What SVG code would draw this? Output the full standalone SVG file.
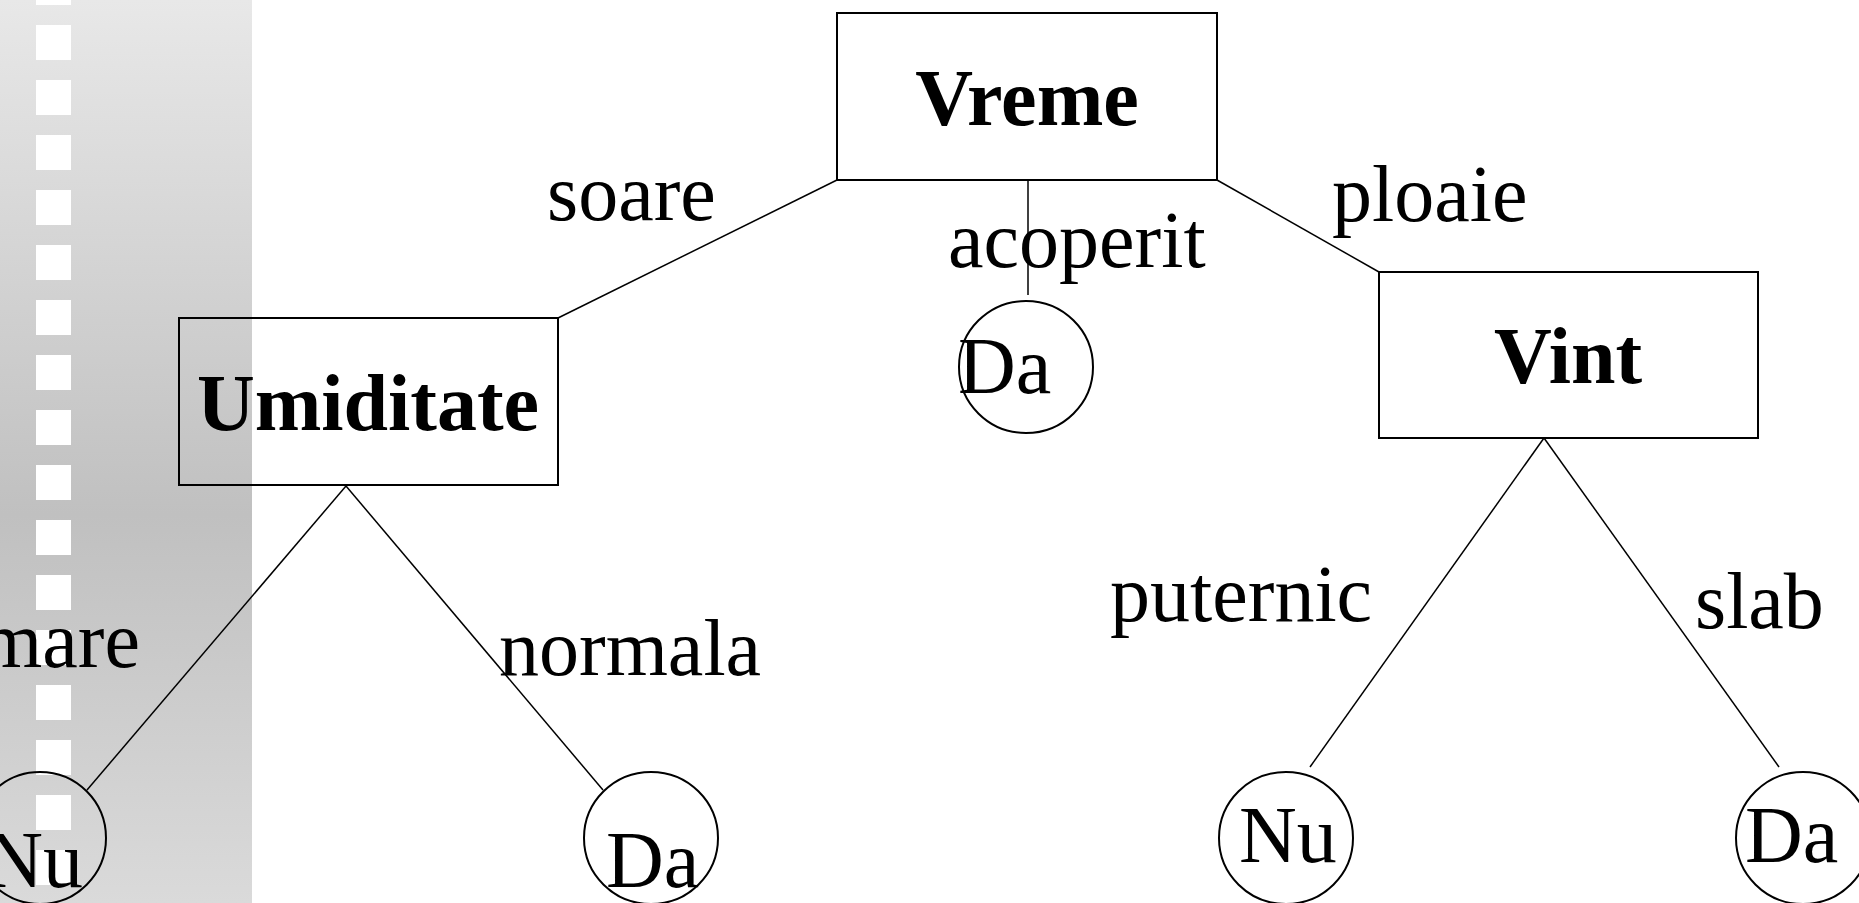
<svg xmlns="http://www.w3.org/2000/svg" width="1859" height="903" viewBox="0 0 1859 903">
<defs>
<linearGradient id="strip" x1="0" y1="0" x2="0" y2="1">
<stop offset="0" stop-color="#e8e8e8"/>
<stop offset="0.57" stop-color="#c0c0c0"/>
<stop offset="1" stop-color="#dadada"/>
</linearGradient>
<pattern id="holes" x="36" y="25" width="35" height="55" patternUnits="userSpaceOnUse">
<rect x="0" y="0" width="35" height="35" fill="#ffffff"/>
</pattern>
</defs>
<style>
.box{fill:none;stroke:#000;stroke-width:2}
.leaf{fill:none;stroke:#000;stroke-width:2}
.edge{stroke:#000;stroke-width:1.5;fill:none}
.bold{font-family:"Liberation Serif","Times New Roman",serif;font-weight:bold;font-size:80px;fill:#000}
.lbl{font-family:"Liberation Serif","Times New Roman",serif;font-size:80px;fill:#000}
</style>
<g id="background">
<rect x="0" y="0" width="252" height="903" fill="url(#strip)"/>
<rect x="36" y="-30" width="35" height="933" fill="url(#holes)"/>
</g>
<g id="connectors">
<line class="edge" x1="837" y1="180" x2="558" y2="318"/>
<line class="edge" x1="1028" y1="180" x2="1028" y2="295"/>
<line class="edge" x1="1217" y1="180" x2="1379" y2="272"/>
<line class="edge" x1="346" y1="486" x2="87" y2="790"/>
<line class="edge" x1="346" y1="486" x2="603" y2="790"/>
<line class="edge" x1="1544" y1="438" x2="1310" y2="767"/>
<line class="edge" x1="1544" y1="438" x2="1779" y2="767"/>
<text class="lbl" x="547" y="220">soare</text>
<text class="lbl" x="948" y="267">acoperit</text>
<text class="lbl" x="1332" y="221">ploaie</text>
<text class="lbl" x="140" y="667" text-anchor="end">mare</text>
<text class="lbl" x="499" y="675">normala</text>
<text class="lbl" x="1110" y="621">puternic</text>
<text class="lbl" x="1695" y="628">slab</text>
</g>
<g id="node-vreme">
<rect class="box" x="837" y="13" width="380" height="167"/>
<text class="bold" x="1027" y="125" text-anchor="middle">Vreme</text>
</g>
<g id="node-umiditate">
<rect class="box" x="179" y="318" width="379" height="167"/>
<text class="bold" x="368" y="430" text-anchor="middle">Umiditate</text>
</g>
<g id="node-vint">
<rect class="box" x="1379" y="272" width="379" height="166"/>
<text class="bold" x="1568" y="383" text-anchor="middle">Vint</text>
</g>
<g id="leaf-da-acoperit">
<ellipse class="leaf" cx="1026" cy="367" rx="67" ry="66"/>
<text class="lbl" x="958" y="393">Da</text>
</g>
<g id="leaf-nu-mare">
<ellipse class="leaf" cx="40" cy="838" rx="66" ry="66"/>
<text class="lbl" x="83" y="887" text-anchor="end">Nu</text>
</g>
<g id="leaf-da-normala">
<ellipse class="leaf" cx="651" cy="838" rx="67" ry="66"/>
<text class="lbl" x="606" y="887">Da</text>
</g>
<g id="leaf-nu-puternic">
<ellipse class="leaf" cx="1286" cy="838" rx="67" ry="66"/>
<text class="lbl" x="1239" y="862">Nu</text>
</g>
<g id="leaf-da-slab">
<ellipse class="leaf" cx="1803" cy="838" rx="67" ry="66"/>
<text class="lbl" x="1745" y="862">Da</text>
</g>
</svg>
